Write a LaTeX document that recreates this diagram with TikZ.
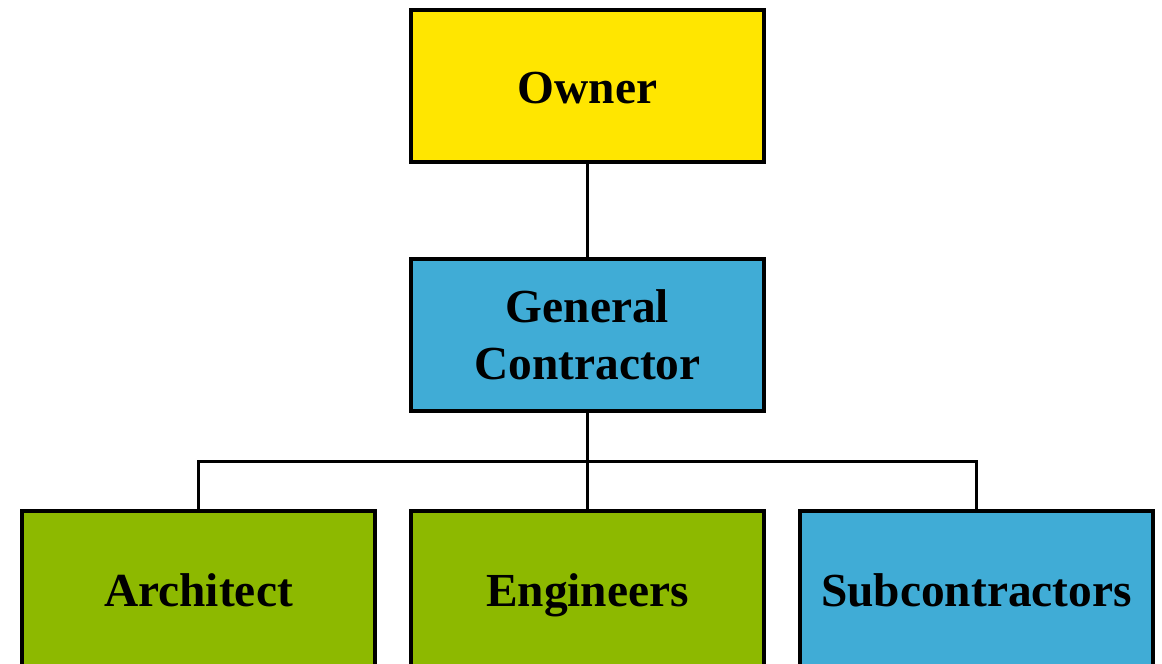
\documentclass[tikz,border=0pt]{standalone}
\usepackage{fontspec}
\setmainfont{Liberation Serif}
\usetikzlibrary{positioning, calc}
\definecolor{cOwner}{RGB}{255, 230, 0}
\definecolor{cGC}{RGB}{64, 172, 214}
\definecolor{cDesign}{RGB}{141, 185, 0}

\begin{document}
\begin{tikzpicture}[
    font=\fontsize{23.7pt}{28.5pt}\selectfont\bfseries,
    box/.style={
        draw=black,
        line width=1.75pt,
        minimum width=176.5pt,
        minimum height=76pt,
        outer sep=0pt,
        align=center
    },
    oneline/.style={text height=17.5pt, text depth=0pt},
    cutbox/.style={minimum height=79pt, text height=16pt},
    link/.style={line width=1.5pt, color=black}
]

\useasboundingbox (-293.75pt, 43pt) rectangle (287.25pt, -289pt);

% Top of the chart
\node[box, oneline, fill=cOwner] (owner) at (0, 0) {Owner};

\node[box, fill=cGC, below=48.5pt of owner] (gc) {General\\Contractor};

% Bottom row (runs off the page)
\node[box, oneline, cutbox, fill=cDesign, below=50pt of gc] (eng) {Engineers};
\node[box, oneline, cutbox, fill=cDesign, left=18pt of eng] (arch) {Architect};
\node[box, oneline, cutbox, fill=cGC, right=18pt of eng] (sub) {Subcontractors};

\coordinate (bar) at ($(gc.south)!0.5!(eng.north)$);

\draw[link] (owner) -- (gc);
\draw[link] (gc) -- (eng);
\draw[link] (arch.north) |- (bar) -| (sub.north);

\end{tikzpicture}
\end{document}
